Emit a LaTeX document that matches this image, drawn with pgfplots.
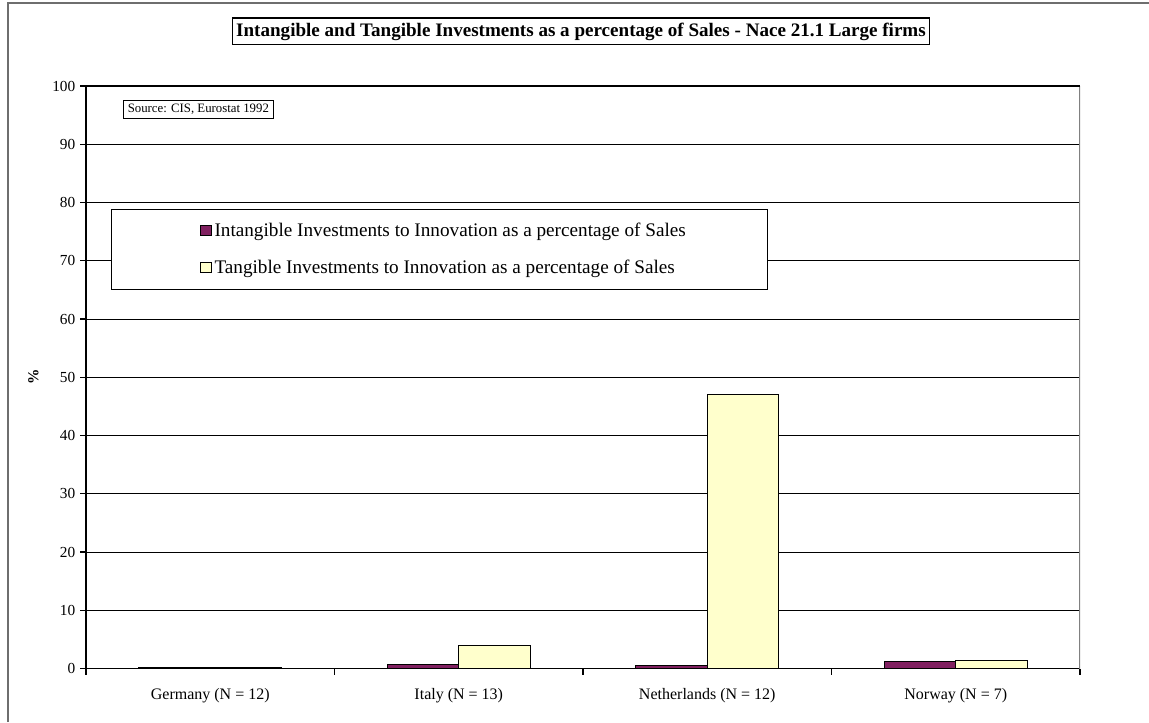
\documentclass[border=0pt]{standalone}
\usepackage{fontspec}
\setmainfont{Liberation Serif}
\usepackage{pgfplots}
\pgfplotsset{compat=1.18}

\definecolor{plum}{RGB}{128,32,96}
\definecolor{lightyellow}{RGB}{255,255,204}
\definecolor{framegray}{RGB}{110,110,110}

% values (%)
% 0 Germany, 1 Italy, 2 Netherlands, 3 Norway
\pgfplotstableread{
x intang tang
0 0.1 0.1
1 0.7 3.9
2 0.5 47
3 1.2 1.4
}\investdata

\begin{document}
\begin{tikzpicture}
\path[use as bounding box] (0,0) rectangle (861.75pt,541.5pt);
\draw[framegray,line width=1pt] (6pt,0) -- (6pt,539.25pt) -- (861.75pt,539.25pt);

\begin{axis}[
  at={(64.5pt,40.1pt)}, anchor=south west,
  scale only axis,
  width=745.5pt, height=436.9pt,
  ybar, bar width=0.288,
  xmin=-0.5, xmax=3.5,
  ymin=0, ymax=100,
  ytick={0,10,...,100},
  xtick={0,1,2,3},
  xticklabels={Germany (N = 12),Italy (N = 13),Netherlands (N = 12),Norway (N = 7)},
  minor xtick={-0.5,0.5,1.5,2.5,3.5},
  every major x tick/.append style={draw=none},
  tick align=outside,
  xtick pos=bottom, ytick pos=left,
  major tick length=4.5pt, minor tick length=4.5pt,
  tick style={black, line width=0.8pt},
  axis x line*=bottom, axis y line*=left,
  axis line style={black, line width=1pt},
  ymajorgrids,
  grid style={black, line width=0.7pt},
  /pgf/number format/assume math mode=true,
  yticklabel style={font=\fontsize{11.5}{13}\selectfont},
  xticklabel style={yshift=-7pt, font=\fontsize{12}{14}\selectfont},
  ylabel={\textbf{\%}},
  ylabel style={at={(axis description cs:-0.053,0.5)}, anchor=center, font=\fontsize{11.5}{13}\selectfont},
  legend cell align=left,
  legend style={
    at={(rel axis cs:0.025,0.789)}, anchor=north west,
    draw=black, line width=0.8pt, fill=white,
    inner xsep=59.5pt, inner ysep=8.5pt,
    row sep=12pt,
    font=\fontsize{14.4}{16}\selectfont,
  },
  legend image code/.code={\path (0pt,0pt); \draw[#1, line width=0.8pt] (7pt,-3.5pt) rectangle (15pt,4.5pt);},
]
\addplot[draw=black, line width=0.9pt, fill=plum, bar shift=-0.144] table[x=x,y=intang] {\investdata};
\addlegendentry{Intangible Investments to Innovation as a percentage of Sales}
\addplot[draw=black, line width=0.9pt, fill=lightyellow, bar shift=0.144] table[x=x,y=tang] {\investdata};
\addlegendentry{Tangible Investments to Innovation as a percentage of Sales}

\draw[gray, line width=1pt] (rel axis cs:1,0) -- (rel axis cs:1,1);
\draw[black, line width=1pt] (rel axis cs:0,1) -- (rel axis cs:1,1);
\node[draw=black, line width=0.6pt, fill=white, inner xsep=3pt, inner ysep=3pt,
      font=\fontsize{9.6}{11}\selectfont]
  at (rel axis cs:0.113,0.9597) {Source: CIS, Eurostat 1992};
\end{axis}

\node[draw=black, line width=0.8pt, inner xsep=3pt, inner ysep=3.5pt,
      font=\bfseries\fontsize{14.3}{16}\selectfont]
  at (435.75pt,517.9pt) {Intangible and Tangible Investments as a percentage of Sales - Nace 21.1 Large firms};
\end{tikzpicture}
\end{document}
